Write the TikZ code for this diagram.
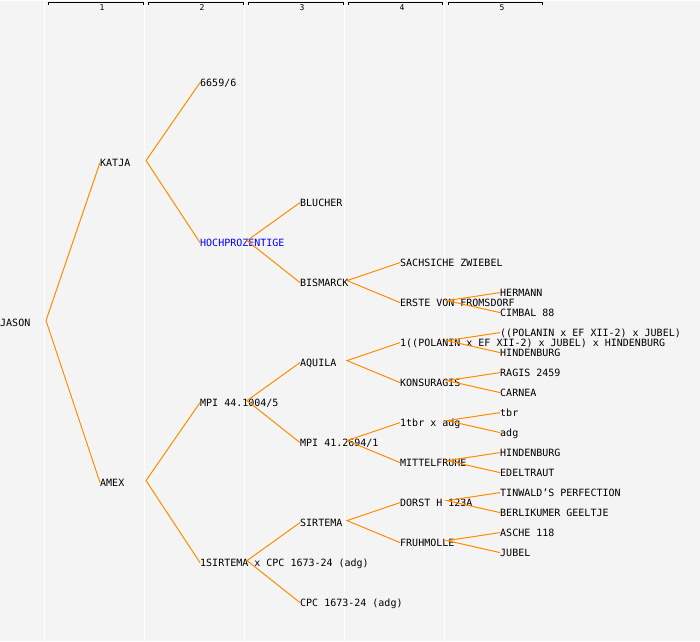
\documentclass[tikz,border=0pt]{standalone}
\usepackage{fontspec}
\newfontfamily\pedfont{DejaVu Sans Mono}
\usetikzlibrary{positioning}
\definecolor{pagegray}{HTML}{F4F4F4}
\definecolor{linkorange}{HTML}{FF8C00}
\definecolor{nameblue}{HTML}{0000FF}

\begin{document}
\begin{tikzpicture}[x=1pt, y=-1pt, every node/.style={font=\pedfont\fontsize{10}{12}\selectfont}]
  \tikzset{
    horse/.style={anchor=west, inner sep=0pt, text height=7.3pt, text depth=0pt},
    edge/.style={draw=linkorange, line width=1pt},
    gen/.style={draw=black, line width=1pt},
    gennum/.style={inner sep=0pt, font=\pedfont\fontsize{8}{9}\selectfont},
    colsep/.style={draw=white, line width=1.2pt}
  }
  \fill[pagegray] (0,0) rectangle (700,640);

  % column separators
  \draw[colsep] (44.5,0) -- (44.5,640);
  \draw[colsep] (144.5,0) -- (144.5,640);
  \draw[colsep] (244.5,0) -- (244.5,640);
  \draw[colsep] (344.5,0) -- (344.5,640);
  \draw[colsep] (444.5,0) -- (444.5,640);

  % generation header
  \draw[gen] (48,4.5) -- (48,1.5) -- (143,1.5) -- (143,4.5);
  \draw[gen] (148,4.5) -- (148,1.5) -- (243,1.5) -- (243,4.5);
  \draw[gen] (248,4.5) -- (248,1.5) -- (343,1.5) -- (343,4.5);
  \draw[gen] (348,4.5) -- (348,1.5) -- (442,1.5) -- (442,4.5);
  \draw[gen] (448,4.5) -- (448,1.5) -- (542,1.5) -- (542,4.5);
  \node[gennum] (g1) at (102,7) {1};
  \node[gennum] (g2) at (202,7) {2};
  \node[gennum] (g3) at (302,7) {3};
  \node[gennum] (g4) at (402,7) {4};
  \node[gennum] (g5) at (502,7) {5};

  % horses
  \node[horse] (jason) at (0,322) {JASON};
  \node[horse] (katja) at (100,162) {KATJA};
  \node[horse] (amex) at (100,482) {AMEX};
  \node[horse] (n6659) at (200,82) {6659/6};
  \node[horse, text=nameblue] (hochpro) at (200,242) {HOCHPROZENTIGE};
  \node[horse] (mpi44) at (200,402) {MPI 44.1004/5};
  \node[horse] (sirtemax) at (200,562) {1SIRTEMA x CPC 1673-24 (adg)};
  \node[horse] (blucher) at (300,202) {BLUCHER};
  \node[horse] (bismarck) at (300,282) {BISMARCK};
  \node[horse] (aquila) at (300,362) {AQUILA};
  \node[horse] (mpi41) at (300,442) {MPI 41.2694/1};
  \node[horse] (sirtema) at (300,522) {SIRTEMA};
  \node[horse] (cpc) at (300,602) {CPC 1673-24 (adg)};
  \node[horse] (sachsiche) at (400,262) {SACHSICHE ZWIEBEL};
  \node[horse] (erste) at (400,302) {ERSTE VON FROMSDORF};
  \node[horse] (polanin) at (400,342) {1((POLANIN x EF XII-2) x JUBEL) x HINDENBURG};
  \node[horse] (konsuragis) at (400,382) {KONSURAGIS};
  \node[horse] (tbradg) at (400,422) {1tbr x adg};
  \node[horse] (mittelfruhe) at (400,462) {MITTELFRUHE};
  \node[horse] (dorst) at (400,502) {DORST H 123A};
  \node[horse] (fruhmolle) at (400,542) {FRUHMOLLE};
  \node[horse] (hermann) at (500,292) {HERMANN};
  \node[horse] (cimbal) at (500,312) {CIMBAL 88};
  \node[horse] (polanina) at (500,332) {((POLANIN x EF XII-2) x JUBEL)};
  \node[horse] (hindena) at (500,352) {HINDENBURG};
  \node[horse] (ragis) at (500,372) {RAGIS 2459};
  \node[horse] (carnea) at (500,392) {CARNEA};
  \node[horse] (tbr) at (500,412) {tbr};
  \node[horse] (adg) at (500,432) {adg};
  \node[horse] (hindenb) at (500,452) {HINDENBURG};
  \node[horse] (edeltraut) at (500,472) {EDELTRAUT};
  \node[horse] (tinwald) at (500,492) {TINWALD’S PERFECTION};
  \node[horse] (berlikumer) at (500,512) {BERLIKUMER GEELTJE};
  \node[horse] (asche) at (500,532) {ASCHE 118};
  \node[horse] (jubel) at (500,552) {JUBEL};

  % forks
  \coordinate (jason-v) at ([shift={(46pt,2pt)}]jason.west);
  \coordinate (katja-v) at ([shift={(46pt,2pt)}]katja.west);
  \coordinate (amex-v) at ([shift={(46pt,2pt)}]amex.west);
  \coordinate (hochpro-v) at ([shift={(47pt,2pt)}]hochpro.west);
  \coordinate (mpi44-v) at ([shift={(47pt,2pt)}]mpi44.west);
  \coordinate (sirtemax-v) at ([shift={(47pt,2pt)}]sirtemax.west);
  \coordinate (bismarck-v) at ([shift={(47pt,2pt)}]bismarck.west);
  \coordinate (aquila-v) at ([shift={(47pt,2pt)}]aquila.west);
  \coordinate (mpi41-v) at ([shift={(47pt,2pt)}]mpi41.west);
  \coordinate (sirtema-v) at ([shift={(47pt,2pt)}]sirtema.west);
  \coordinate (erste-v) at ([shift={(47pt,2pt)}]erste.west);
  \coordinate (polanin-v) at ([shift={(47pt,2pt)}]polanin.west);
  \coordinate (konsuragis-v) at ([shift={(47pt,2pt)}]konsuragis.west);
  \coordinate (tbradg-v) at ([shift={(47pt,2pt)}]tbradg.west);
  \coordinate (mittelfruhe-v) at ([shift={(47pt,2pt)}]mittelfruhe.west);
  \coordinate (dorst-v) at ([shift={(47pt,2pt)}]dorst.west);
  \coordinate (fruhmolle-v) at ([shift={(47pt,2pt)}]fruhmolle.west);

  \draw[edge] (katja.west) -- (jason-v) -- (amex.west);
  \draw[edge] (n6659.west) -- (katja-v) -- (hochpro.west);
  \draw[edge] (mpi44.west) -- (amex-v) -- (sirtemax.west);
  \draw[edge] (blucher.west) -- (hochpro-v) -- (bismarck.west);
  \draw[edge] (aquila.west) -- (mpi44-v) -- (mpi41.west);
  \draw[edge] (sirtema.west) -- (sirtemax-v) -- (cpc.west);
  \draw[edge] (sachsiche.west) -- (bismarck-v) -- (erste.west);
  \draw[edge] (polanin.west) -- (aquila-v) -- (konsuragis.west);
  \draw[edge] (tbradg.west) -- (mpi41-v) -- (mittelfruhe.west);
  \draw[edge] (dorst.west) -- (sirtema-v) -- (fruhmolle.west);
  \draw[edge] (hermann.west) -- (erste-v) -- (cimbal.west);
  \draw[edge] (polanina.west) -- (polanin-v) -- (hindena.west);
  \draw[edge] (ragis.west) -- (konsuragis-v) -- (carnea.west);
  \draw[edge] (tbr.west) -- (tbradg-v) -- (adg.west);
  \draw[edge] (hindenb.west) -- (mittelfruhe-v) -- (edeltraut.west);
  \draw[edge] (tinwald.west) -- (dorst-v) -- (berlikumer.west);
  \draw[edge] (asche.west) -- (fruhmolle-v) -- (jubel.west);
\end{tikzpicture}
\end{document}
